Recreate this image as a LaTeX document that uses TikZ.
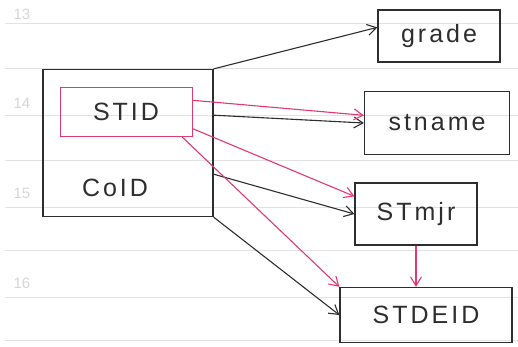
\documentclass[tikz,border=0pt]{standalone}
\usepackage{fontspec}
\setmainfont{Liberation Sans}
\newfontfamily\hand[LetterSpace=12]{Liberation Sans}
\usetikzlibrary{arrows.meta}
\definecolor{ink}{HTML}{2E2E2E}
\definecolor{pinkred}{HTML}{E23A6E}
\definecolor{rule}{HTML}{E2E2E2}
\definecolor{rulenum}{HTML}{D6D6D6}
\tikzset{
  boxnode/.style={draw=ink, line width=1.25pt, rectangle, inner sep=0pt},
  keynode/.style={draw=pinkred, line width=1pt, rectangle, inner sep=0pt},
  attr/.style={font=\hand\fontsize{25}{25}\selectfont, text=ink},
  blk/.style={draw=ink, line width=1.1pt, -{Straight Barb[length=9pt,width=11pt,line width=1.1pt]}},
  red/.style={draw=pinkred, line width=1.1pt, -{Straight Barb[length=9pt,width=11pt,line width=1.1pt]}},
  ruled/.style={draw=rule, line width=0.8pt},
  linenum/.style={text=rulenum, font=\fontsize{15}{15}\selectfont}
}
\begin{document}
\begin{tikzpicture}[x=1pt,y=-1pt]
\useasboundingbox[fill=white] (0,0) rectangle (518,346);
% ruled paper
\foreach \yy in {23,68,115,160,207,250,297,340} {
  \draw[ruled] (5,\yy) -- (518,\yy);
}
\node[linenum] (n13) at (22,14) {13};
\node[linenum] (n14) at (22,103) {14};
\node[linenum] (n15) at (22,193) {15};
\node[linenum] (n16) at (22,283) {16};
% main relation box
\node[boxnode, minimum width=170pt, minimum height=147pt] (big) at (128,143) {};
\node[keynode, minimum width=132pt, minimum height=49pt] (stid) at (126,112) {};
\node[attr] (stidt) at (126,112) {STID};
\node[attr] (coid) at (115,188) {CoID};
% attribute boxes
\node[boxnode, attr, minimum width=122pt, minimum height=52pt] (grade) at (439,36) {grade};
\node[boxnode, attr, minimum width=145pt, minimum height=63pt] (stname) at (437,123) {stname};
\node[boxnode, attr, minimum width=122pt, minimum height=62pt] (stmjr) at (416,214) {STmjr};
\node[boxnode, attr, minimum width=172pt, minimum height=55pt] (stdeid) at (426,315) {STDEID};
% black dependencies
\draw[blk] (big.north east) -- (grade.172);
\draw[blk] (big.18) -- (stname.west);
\draw[blk] (big.-20) -- (stmjr.west);
\draw[blk] (big.south east) -- (stdeid.west);
% red dependencies
\draw[red] (stid.10) -- (stname.174);
\draw[red] (stid.-14) -- (stmjr.164);
\draw[red] (stid.-24) -- (stdeid.north west);
\draw[red] (stmjr.south) -- (stmjr.south |- stdeid.north);
\end{tikzpicture}
\end{document}
